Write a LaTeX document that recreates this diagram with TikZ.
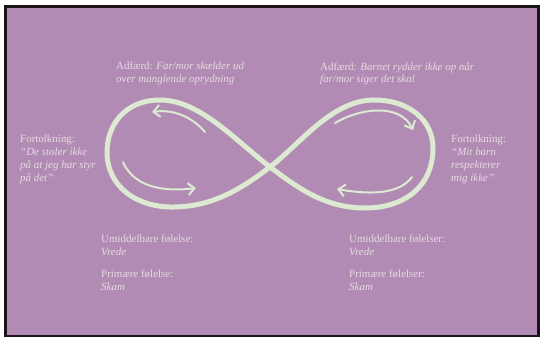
\documentclass[tikz,border=0pt]{standalone}
\usepackage{fontspec}
\setmainfont{Liberation Serif}
\usepackage{xcolor}
\definecolor{lilac}{HTML}{B28BB4}
\definecolor{mint}{HTML}{DCEAD2}
\definecolor{paletext}{HTML}{E4DCE0}
\definecolor{frameink}{HTML}{1A1418}
\usepackage{tikz}
\usetikzlibrary{arrows.meta}

\tikzset{
  lbl/.style={text=paletext, anchor=north west, inner sep=0pt, align=left,
              font=\fontsize{11}{12.8}\selectfont},
  loopline/.style={draw=mint, line width=5bp, line join=round},
  flow/.style={draw=mint, line width=2bp, line cap=round,
               -{Straight Barb[length=6.5bp, width=12bp, line width=2bp]}}
}

\begin{document}
\begin{tikzpicture}[x=1bp, y=-1bp]
    \useasboundingbox (0,0) rectangle (541,337);
    \fill[white] (0,0) rectangle (541,337);
    \fill[frameink] (4,5) rectangle (540,337);
    \fill[lilac] (7,8) rectangle (537,335);
    % infinity loop
    \coordinate (cross) at (270,167);
    \draw[loopline] (cross)
        .. controls (236,141) and (200,100) .. (160,100)
        .. controls (125,100) and (107,125) .. (107,152)
        .. controls (107,186) and (136,208) .. (175,207)
        .. controls (214,206) and (241,189) .. (cross)
        .. controls (300,144) and (332,100) .. (374,100)
        .. controls (410,100) and (433,121) .. (433,148)
        .. controls (433,186) and (405,208) .. (365,208)
        .. controls (325,208) and (298,188) .. (cross);
    % arrows inside the loops
    \coordinate (ltS) at (205,132); \coordinate (ltE) at (152,112);
    \coordinate (lbS) at (123,162); \coordinate (lbE) at (196,188);
    \coordinate (rtS) at (335,123); \coordinate (rtE) at (413,130);
    \coordinate (rbS) at (412,177); \coordinate (rbE) at (337,189);
    \draw[flow] (ltS) .. controls (192,117) and (174,109) .. (ltE);
    \draw[flow] (lbS) .. controls (132,183) and (156,193) .. (lbE);
    \draw[flow] (rtS) .. controls (360,108) and (400,103) .. (rtE);
    \draw[flow] (rbS) .. controls (398,196) and (365,194) .. (rbE);
    % texts
    \node[lbl] (adfL) at (116,62) {Adfærd: \textit{Far/mor skælder ud}\\\textit{over manglende oprydning}};
    \node[lbl] (adfR) at (320,62) {Adfærd: \textit{Barnet rydder ikke op når}\\\textit{far/mor siger det skal}};
    \node[lbl] (fortL) at (20,135) {Fortolkning:\\\textit{“De stoler ikke}\\\textit{på at jeg har styr}\\\textit{på det”}};
    \node[lbl] (fortR) at (451,135) {Fortolkning:\\\textit{“Mit barn}\\\textit{respekterer}\\\textit{mig ikke”}};
    \node[lbl] (foelL) at (101,235) {Umiddelbare følelse:\\\textit{Vrede}\\[9bp]Primære følelse:\\\textit{Skam}};
    \node[lbl] (foelR) at (349,235) {Umiddelbare følelser:\\\textit{Vrede}\\[9bp]Primære følelser:\\\textit{Skam}};
\end{tikzpicture}
\end{document}
